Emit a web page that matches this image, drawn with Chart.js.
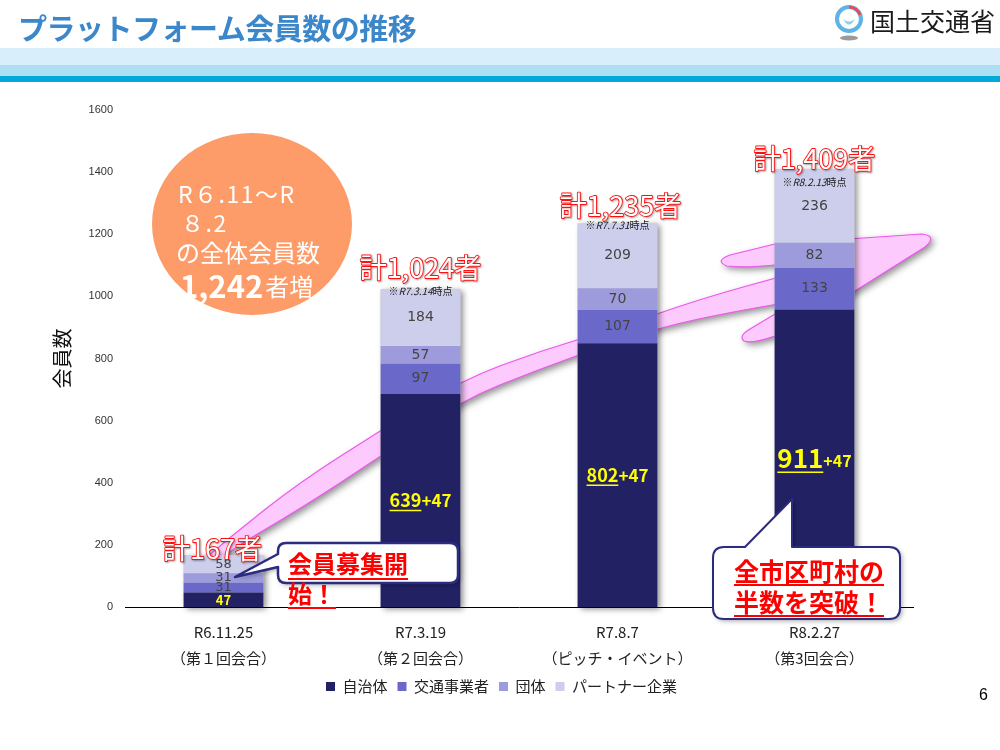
<!DOCTYPE html>
<html lang="ja">
<head>
<meta charset="utf-8">
<title>プラットフォーム会員数の推移</title>
<script src="https://cdn.jsdelivr.net/npm/chart.js@4.4.1/dist/chart.umd.min.js"></script>
<style>
  html, body { margin: 0; padding: 0; background: #fff; }
  #page { position: relative; width: 1000px; height: 750px; overflow: hidden; font-family: "Noto Sans CJK JP", sans-serif; }
  #wrap { position: absolute; left: 0; top: 0; width: 1000px; height: 750px; }
  .title { position: absolute; left: 18px; top: 6px; font-size: 29px; font-weight: bold; color: #3b87c9; line-height: 42px; letter-spacing: -0.5px; }
  .band { position: absolute; left: 0; width: 1000px; }
  .logo { position: absolute; left: 834px; top: 4px; }
  .logo-text { position: absolute; left: 870px; top: 2px; font-size: 25px; color: #1a1a1a; line-height: 36px; }
  .pageno { position: absolute; left: 979px; top: 686px; font-size: 16px; color: #000; font-family: "Liberation Sans", sans-serif; }
</style>
</head>
<body>
<div id="page">
  <div id="wrap"><canvas id="grafico"></canvas></div>
  <div class="title">プラットフォーム会員数の推移</div>
  <svg class="logo" width="32" height="40" viewBox="0 0 32 40">
    <circle cx="15" cy="15" r="12" fill="none" stroke="#5fb4e6" stroke-width="4"/>
    <path d="M9 15 Q15 26 21 15 Q15 20 9 15Z" fill="#8fd0f0"/>
    <path d="M15 3 A12 12 0 0 1 26 11" fill="none" stroke="#e84a5a" stroke-width="3"/>
    <ellipse cx="15" cy="34" rx="9" ry="2.5" fill="#9a9a9a"/>
  </svg>
  <div class="logo-text">国土交通省</div>
  <div class="band" style="top:48px;height:17px;background:#d9eefb"></div>
  <div class="band" style="top:65px;height:11px;background:#abdff1"></div>
  <div class="band" style="top:76px;height:6px;background:#00a9d8"></div>
  <div class="pageno">6</div>
</div>
<script>
// 開催日と会合名
const dates = ['R6.11.25', 'R7.3.19', 'R7.8.7', 'R8.2.27'];
const meetings = ['（第１回会合）', '（第２回会合）', '（ピッチ・イベント）', '（第3回会合）'];
const seriesNames = ['自治体', '交通事業者', '団体', 'パートナー企業'];
const seriesColors = ['#222164', '#6a69c9', '#9d9bdb', '#cdcdec'];

// 会員数（自治体 = 市区町村 + 都道府県）
const municipalities = [0, 639, 802, 911];
const prefectures = [47, 47, 47, 47];
const transport = [31, 97, 107, 133];
const groups = [31, 57, 70, 82];
const partners = [58, 184, 209, 236];
const asOfNotes = ['', '※R7.3.14時点', '※R7.7.31時点', '※R8.2.13時点'];
const yMax = 1600;
const yStep = 200;

const localGov = municipalities.map((m, i) => m + prefectures[i]);
const seriesData = [localGov, transport, groups, partners];
const totals = dates.map((_, i) => seriesData.reduce((s, d) => s + d[i], 0));

const JP = '"Noto Sans CJK JP", sans-serif';

function smoothPath(ctx, pts) {
  for (let i = 1; i < pts.length - 1; i++) {
    const mx = (pts[i][0] + pts[i + 1][0]) / 2;
    const my = (pts[i][1] + pts[i + 1][1]) / 2;
    ctx.quadraticCurveTo(pts[i][0], pts[i][1], mx, my);
  }
  const last = pts[pts.length - 1];
  ctx.lineTo(last[0], last[1]);
}

function drawUnderlined(ctx, text, x, y, font, color, ulOffset, ulWidth) {
  ctx.font = font;
  ctx.fillStyle = color;
  ctx.textAlign = 'left';
  ctx.textBaseline = 'middle';
  ctx.fillText(text, x, y);
  const w = ctx.measureText(text).width;
  ctx.strokeStyle = color;
  ctx.lineWidth = ulWidth || 2;
  ctx.beginPath();
  ctx.moveTo(x, y + ulOffset);
  ctx.lineTo(x + w, y + ulOffset);
  ctx.stroke();
  return w;
}

const adornos = {
  id: 'adornos',
  afterLayout(chart) {
    // 凡例を参照図と同じ位置へ
    chart.legend.left += 20;
    chart.legend.right += 20;
  },
  beforeDatasetsDraw(chart) {
    const ctx = chart.ctx;
    ctx.save();

    // オレンジの円
    ctx.fillStyle = '#fd9b69';
    ctx.beginPath();
    ctx.ellipse(252, 224, 100, 91, 0, 0, Math.PI * 2);
    ctx.fill();
    ctx.fillStyle = '#ffffff';
    ctx.textBaseline = 'middle';
    ctx.textAlign = 'left';
    ctx.font = '23px ' + JP;
    ctx.letterSpacing = '1.5px';
    ctx.fillText('R６.11～R', 178, 194);
    ctx.fillText('８.2', 181, 223);
    ctx.letterSpacing = '0px';
    ctx.font = '24px ' + JP;
    ctx.fillText('の全体会員数', 176, 253);
    ctx.font = 'bold 31px ' + JP;
    ctx.fillText('1,242', 180, 286);
    const w = ctx.measureText('1,242').width;
    ctx.font = '24px ' + JP;
    ctx.fillText('者増', 182 + w, 287);

    // ピンクの矢印
    const upper = [[195, 567], [230, 537], [300, 482], [380, 431], [462, 380], [540, 351], [620, 327], [700, 299], [790, 274]];
    const lower = [[790, 302], [700, 317], [620, 340], [540, 369], [462, 400], [380, 457], [300, 509], [230, 550], [198, 578]];
    ctx.shadowColor = 'rgba(0,0,0,0.45)';
    ctx.shadowBlur = 7;
    ctx.shadowOffsetX = 3;
    ctx.shadowOffsetY = 3;
    ctx.fillStyle = '#fccafc';
    ctx.strokeStyle = '#f055f0';
    ctx.lineWidth = 1.2;
    ctx.beginPath();
    ctx.moveTo(upper[0][0], upper[0][1]);
    smoothPath(ctx, upper);
    ctx.lineTo(775, 265);
    ctx.quadraticCurveTo(745, 268, 727, 266);
    ctx.quadraticCurveTo(714, 261, 730, 255);
    ctx.lineTo(775, 244);
    ctx.lineTo(922, 234);
    ctx.quadraticCurveTo(938, 236, 925, 247);
    ctx.lineTo(855, 291);
    ctx.lineTo(790, 328);
    ctx.lineTo(775, 336);
    ctx.quadraticCurveTo(752, 344, 744, 341);
    ctx.quadraticCurveTo(738, 336, 750, 329);
    ctx.lineTo(775, 314);
    ctx.lineTo(795, 306);
    ctx.lineTo(lower[0][0], lower[0][1]);
    smoothPath(ctx, lower);
    ctx.quadraticCurveTo(188, 576, 195, 567);
    ctx.closePath();
    ctx.fill();
    ctx.shadowColor = 'transparent';
    ctx.stroke();

    // 棒の影
    const metas = seriesData.map((_, d) => chart.getDatasetMeta(d));
    dates.forEach((_, i) => {
      const bottom = metas[0].data[i];
      const top = metas[metas.length - 1].data[i];
      const half = bottom.width / 2;
      ctx.shadowColor = 'rgba(0,0,0,0.45)';
      ctx.shadowBlur = 6;
      ctx.shadowOffsetX = 3;
      ctx.shadowOffsetY = 2;
      ctx.fillStyle = '#cccccc';
      ctx.fillRect(bottom.x - half, top.y, half * 2, bottom.base - top.y);
    });
    ctx.restore();
  },
  afterDatasetsDraw(chart) {
    const ctx = chart.ctx;
    ctx.save();
    const metas = seriesData.map((_, d) => chart.getDatasetMeta(d));

    // 内訳の数値
    ctx.textAlign = 'center';
    ctx.textBaseline = 'middle';
    for (let d = 1; d < seriesData.length; d++) {
      metas[d].data.forEach((bar, i) => {
        ctx.font = (i === 0 ? '13px ' : '14px ') + '"DejaVu Sans", sans-serif';
        ctx.fillStyle = '#444444';
        ctx.fillText(String(seriesData[d][i]), bar.x, (bar.y + bar.base) / 2);
      });
    }

    // 自治体（市区町村 + 都道府県）
    metas[0].data.forEach((bar, i) => {
      const cy = (bar.y + bar.base) / 2;
      ctx.fillStyle = '#ffff00';
      if (municipalities[i] === 0) {
        ctx.font = 'bold 13px ' + JP;
        ctx.textAlign = 'center';
        ctx.fillText(String(prefectures[i]), bar.x, cy);
        return;
      }
      const big = i === dates.length - 1;
      const f1 = 'bold ' + (big ? 26 : 18) + 'px ' + JP;
      const f2 = 'bold ' + (big ? 16 : 17) + 'px ' + JP;
      const a = String(municipalities[i]);
      const b = '+' + prefectures[i];
      ctx.font = f1;
      const wa = ctx.measureText(a).width;
      ctx.font = f2;
      const wb = ctx.measureText(b).width;
      const x0 = bar.x - (wa + wb) / 2;
      drawUnderlined(ctx, a, x0, cy, f1, '#ffff00', big ? 14 : 10, 1.5);
      ctx.font = f2;
      ctx.fillText(b, x0 + wa, cy + (big ? 3 : 0));
    });

    // 合計と時点
    const totalShift = [[-11, -6], [0, -21], [3, -18], [0, -11]];
    const noteShift = [0, 2, 2, 13];
    metas[metas.length - 1].data.forEach((bar, i) => {
      const label = '計' + totals[i].toLocaleString('en-US') + '者';
      const x = bar.x + totalShift[i][0];
      const y = bar.y + totalShift[i][1];
      ctx.font = '27px ' + JP;
      ctx.textAlign = 'center';
      ctx.textBaseline = 'middle';
      ctx.shadowColor = 'rgba(0,0,0,0.35)';
      ctx.shadowBlur = 2;
      ctx.shadowOffsetX = 1;
      ctx.shadowOffsetY = 1;
      ctx.lineWidth = 1.8;
      ctx.strokeStyle = '#ff1010';
      ctx.lineJoin = 'round';
      ctx.strokeText(label, x, y);
      ctx.shadowColor = 'transparent';
      ctx.fillStyle = '#ffffff';
      ctx.fillText(label, x, y);
      if (asOfNotes[i]) {
        const m = asOfNotes[i].match(/^(※)(R[\d.]+)(時点)$/);
        ctx.fillStyle = '#222222';
        const parts = [[m[1], '10px '], [m[2], 'italic 10px '], [m[3], '10px ']];
        let tw = 0;
        parts.forEach(p => { ctx.font = p[1] + JP; tw += ctx.measureText(p[0]).width; });
        let px = bar.x - tw / 2;
        ctx.textAlign = 'left';
        parts.forEach(p => {
          ctx.font = p[1] + JP;
          ctx.fillText(p[0], px, bar.y + noteShift[i]);
          px += ctx.measureText(p[0]).width;
        });
      }
    });

    // 吹き出し1
    ctx.shadowColor = 'rgba(0,0,0,0.35)';
    ctx.shadowBlur = 5;
    ctx.shadowOffsetX = 2;
    ctx.shadowOffsetY = 2;
    ctx.fillStyle = '#ffffff';
    ctx.strokeStyle = '#2b2b80';
    ctx.lineWidth = 2.5;
    ctx.lineJoin = 'round';
    let L = 278, T = 543, R = 458, B = 583, r = 8;
    ctx.beginPath();
    ctx.moveTo(L + r, T);
    ctx.lineTo(R - r, T); ctx.quadraticCurveTo(R, T, R, T + r);
    ctx.lineTo(R, B - r); ctx.quadraticCurveTo(R, B, R - r, B);
    ctx.lineTo(L + r, B); ctx.quadraticCurveTo(L, B, L, B - r);
    ctx.lineTo(L, 567); ctx.lineTo(235, 577); ctx.lineTo(L, 554);
    ctx.lineTo(L, T + r); ctx.quadraticCurveTo(L, T, L + r, T);
    ctx.closePath();
    ctx.fill();
    ctx.shadowColor = 'transparent';
    ctx.stroke();
    drawUnderlined(ctx, '会員募集開', 288, 564, 'bold 24px ' + JP, '#ff0000', 15);
    drawUnderlined(ctx, '始！', 288, 594, 'bold 24px ' + JP, '#ff0000', 14);

    // 吹き出し2
    ctx.shadowColor = 'rgba(0,0,0,0.35)';
    ctx.shadowBlur = 5;
    ctx.shadowOffsetX = 2;
    ctx.shadowOffsetY = 2;
    ctx.fillStyle = '#ffffff';
    ctx.strokeStyle = '#2b2b80';
    L = 713; T = 547; R = 900; B = 619; r = 11;
    ctx.beginPath();
    ctx.moveTo(L + r, T);
    ctx.lineTo(745, T); ctx.lineTo(792, 499); ctx.lineTo(792, T);
    ctx.lineTo(R - r, T); ctx.quadraticCurveTo(R, T, R, T + r);
    ctx.lineTo(R, B - r); ctx.quadraticCurveTo(R, B, R - r, B);
    ctx.lineTo(L + r, B); ctx.quadraticCurveTo(L, B, L, B - r);
    ctx.lineTo(L, T + r); ctx.quadraticCurveTo(L, T, L + r, T);
    ctx.closePath();
    ctx.fill();
    ctx.shadowColor = 'transparent';
    ctx.stroke();
    drawUnderlined(ctx, '全市区町村の', 734, 571, 'bold 25px ' + JP, '#ff0000', 14);
    drawUnderlined(ctx, '半数を突破！', 734, 602, 'bold 25px ' + JP, '#ff0000', 14);

    ctx.restore();
  }
};

const chart = new Chart(document.getElementById('grafico'), {
  type: 'bar',
  data: {
    labels: dates.map((d, i) => [d, meetings[i]]),
    datasets: seriesData.map((data, d) => ({
      label: seriesNames[d],
      data: data,
      backgroundColor: seriesColors[d],
      borderWidth: 0,
      barPercentage: 0.405,
      categoryPercentage: 1
    }))
  },
  options: {
    responsive: true,
    maintainAspectRatio: false,
    animation: false,
    layout: { padding: { top: 110, left: 50, right: 87, bottom: 46 } },
    plugins: {
      legend: {
        position: 'bottom',
        labels: {
          boxWidth: 9,
          boxHeight: 9,
          padding: 10,
          color: '#222222',
          font: { family: JP, size: 15 }
        }
      },
      tooltip: { enabled: false }
    },
    scales: {
      x: {
        stacked: true,
        grid: { display: false, drawTicks: false },
        border: { display: true, color: '#000000', width: 1 },
        ticks: {
          padding: 12,
          color: '#222222',
          font: { family: JP, size: 15, lineHeight: '26px' },
          maxRotation: 0
        },
        afterFit(scale) { scale.height = 62; }
      },
      y: {
        stacked: true,
        min: 0,
        max: yMax,
        grid: { display: false, drawTicks: false },
        border: { display: false },
        ticks: {
          stepSize: yStep,
          padding: 12,
          color: '#333333',
          font: { family: '"Liberation Sans", Arial, sans-serif', size: 11 },
          callback: v => String(v)
        },
        title: {
          display: true,
          text: '会員数',
          color: '#111111',
          padding: 0,
          font: { family: JP, size: 20 }
        },
        afterFit(scale) { scale.width = 75; }
      }
    }
  },
  plugins: [adornos]
});
</script>
</body>
</html>
